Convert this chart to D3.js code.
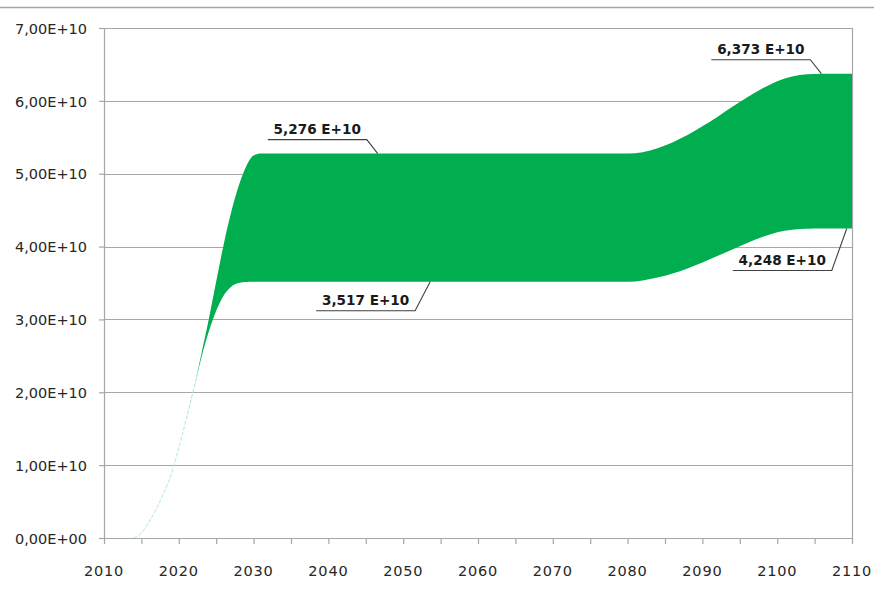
<!DOCTYPE html>
<html>
<head>
<meta charset="utf-8">
<script src="https://cdn.jsdelivr.net/npm/d3@7"></script>
<style>
  body { margin: 0; background: #fff; }
  svg { display: block; }
</style>
</head>
<body>
<div id="chart"></div>
<script>
// values in units of 1E+10
var years = [2014, 2015, 2016, 2017, 2018, 2019, 2020, 2021, 2022, 2023, 2024, 2025, 2026, 2027, 2028, 2029, 2030, 2031,
  2035, 2040, 2045, 2050, 2055, 2060, 2065, 2070, 2075, 2080,
  2082, 2084, 2086, 2088, 2090, 2092, 2094, 2096, 2098, 2100, 2102, 2104, 2106, 2110];
var upperVals = [0.0, 0.07, 0.22, 0.40, 0.62, 0.88, 1.24, 1.63, 2.05, 2.52, 3.00, 3.52, 4.03, 4.47, 4.83, 5.10, 5.25, 5.276,
  5.276, 5.276, 5.276, 5.276, 5.276, 5.276, 5.276, 5.276, 5.276, 5.276,
  5.295, 5.35, 5.43, 5.53, 5.65, 5.78, 5.92, 6.05, 6.17, 6.27, 6.335, 6.365, 6.373, 6.373];
var lowerVals = [0.0, 0.07, 0.22, 0.40, 0.62, 0.88, 1.24, 1.63, 2.05, 2.47, 2.83, 3.12, 3.33, 3.45, 3.50, 3.515, 3.517, 3.517,
  3.517, 3.517, 3.517, 3.517, 3.517, 3.517, 3.517, 3.517, 3.517, 3.517,
  3.535, 3.575, 3.63, 3.70, 3.78, 3.87, 3.96, 4.05, 4.13, 4.195, 4.23, 4.245, 4.248, 4.248];
var yTicks = [0, 1, 2, 3, 4, 5, 6, 7];
var xTicks = [2010, 2020, 2030, 2040, 2050, 2060, 2070, 2080, 2090, 2100, 2110];
var labels = [
  { text: "5,276 E+10", year: 2046.6, series: "upper" },
  { text: "3,517 E+10", year: 2053.6, series: "lower" },
  { text: "6,373 E+10", year: 2105.9, series: "upper" },
  { text: "4,248 E+10", year: 2109.3, series: "lower" }
];

var W = 885, H = 599;
var margin = { top: 28, right: 33, bottom: 61, left: 104 };
var width = W - margin.left - margin.right;
var height = H - margin.top - margin.bottom;

var svg = d3.select("#chart").append("svg")
  .attr("width", W).attr("height", H);

// outer frame line at the top
svg.append("line")
  .attr("x1", 0).attr("x2", 874).attr("y1", 7.5).attr("y2", 7.5)
  .attr("stroke", "#a6a6a6").attr("stroke-width", 1.3);

var g = svg.append("g").attr("transform", "translate(" + margin.left + "," + margin.top + ")");

var x = d3.scaleLinear().domain([2010, 2110]).range([0, width]);
var y = d3.scaleLinear().domain([0, 7e10]).range([height, 0]);

function sci(v) {
  if (v === 0) return "0,00E+00";
  var p = v.toExponential(2).split("e");
  var e = +p[1];
  return p[0].replace(".", ",") + "E" + (e < 0 ? "-" : "+") + (Math.abs(e) < 10 ? "0" : "") + Math.abs(e);
}

// gridlines
g.append("g").selectAll("line").data(yTicks).enter().append("line")
  .attr("x1", 0).attr("x2", width)
  .attr("y1", function (d) { return Math.round(y(d * 1e10)) + 0.5; })
  .attr("y2", function (d) { return Math.round(y(d * 1e10)) + 0.5; })
  .attr("stroke", "#a6a6a6").attr("stroke-width", 1.2);

// right border
g.append("line")
  .attr("x1", width + 0.5).attr("x2", width + 0.5).attr("y1", 0).attr("y2", height)
  .attr("stroke", "#a6a6a6").attr("stroke-width", 1.2);

var data = years.map(function (yr, i) {
  return { year: yr, up: upperVals[i] * 1e10, lo: lowerVals[i] * 1e10 };
});

// faint trace where both series coincide
g.append("path")
  .datum(data.filter(function (d) { return d.year <= 2023; }))
  .attr("d", d3.line().curve(d3.curveMonotoneX)
    .x(function (d) { return x(d.year); })
    .y(function (d) { return y(d.lo); }))
  .attr("fill", "none")
  .attr("stroke", "#bdeed6")
  .attr("stroke-width", 1.1)
  .attr("stroke-dasharray", "4,1.5");

g.append("path")
  .datum(data)
  .attr("d", d3.area().curve(d3.curveMonotoneX)
    .x(function (d) { return x(d.year); })
    .y0(function (d) { return y(d.lo); })
    .y1(function (d) { return y(d.up); }))
  .attr("fill", "#00ad4f");

// y axis
var yAxis = g.append("g")
  .call(d3.axisLeft(y).tickValues(yTicks.map(function (d) { return d * 1e10; }))
    .tickFormat(sci).tickSize(5).tickPadding(12));
yAxis.select(".domain").attr("stroke", "#a6a6a6").attr("stroke-width", 1.2);
yAxis.selectAll(".tick line").attr("stroke", "#a6a6a6").attr("stroke-width", 1.2);
yAxis.selectAll("text").attr("font-family", "DejaVu Sans").attr("font-size", "14.5px")
  .attr("fill", "#262626").attr("dy", "0.36em");

// x axis
var xAxis = g.append("g").attr("transform", "translate(0," + height + ")")
  .call(d3.axisBottom(x).tickValues(d3.range(2010, 2111, 5)).tickFormat("").tickSize(6).tickSizeOuter(0));
xAxis.select(".domain").attr("stroke", "#a6a6a6").attr("stroke-width", 1.2);
xAxis.selectAll(".tick line").attr("stroke", "#a6a6a6").attr("stroke-width", 1.2);

g.append("g").selectAll("text").data(xTicks).enter().append("text")
  .attr("x", function (d) { return x(d); })
  .attr("y", height + 38)
  .attr("text-anchor", "middle")
  .attr("font-family", "DejaVu Sans").attr("font-size", "14.5px")
  .attr("letter-spacing", "0.8px")
  .attr("fill", "#262626")
  .text(function (d) { return d; });

// data labels with leader lines
function valueAt(series, yr) {
  var i = d3.bisectLeft(years, yr);
  if (i <= 0) i = 1;
  if (i >= years.length) i = years.length - 1;
  var arr = series === "upper" ? upperVals : lowerVals;
  var t = (yr - years[i - 1]) / (years[i] - years[i - 1]);
  return (arr[i - 1] + (arr[i] - arr[i - 1]) * t) * 1e10;
}

labels.forEach(function (lb) {
  var px = x(lb.year), py = y(valueAt(lb.series, lb.year));
  var above = lb.series === "upper";
  var lx = above ? px - 11 : px - 15;
  var ly = above ? py - 14 : py + (lb.year > 2100 ? 42 : 29);
  var uw = 99;
  g.append("path")
    .attr("d", "M" + (lx - uw) + "," + ly + "H" + lx + "L" + px + "," + py)
    .attr("fill", "none").attr("stroke", "#404040").attr("stroke-width", 1.1);
  g.append("text")
    .attr("x", lx - uw / 2).attr("y", ly - 5.5)
    .attr("text-anchor", "middle")
    .attr("font-family", "DejaVu Sans").attr("font-weight", "bold").attr("font-size", "13.6px")
    .attr("fill", "#1a1a1a")
    .text(lb.text);
});
</script>
</body>
</html>
